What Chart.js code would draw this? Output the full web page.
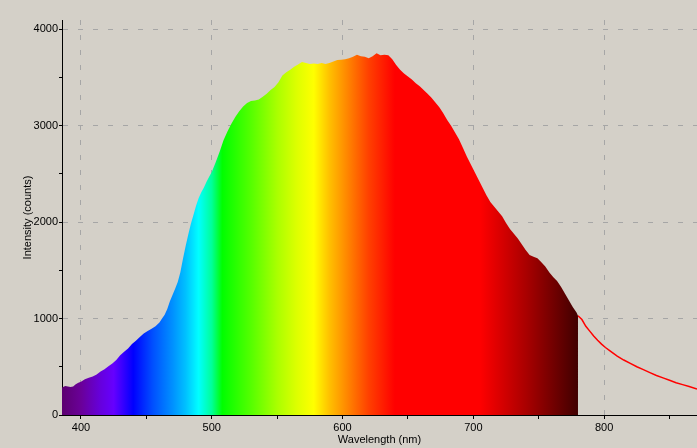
<!DOCTYPE html>
<html lang="en">
<head>
<meta charset="UTF-8">
<title>Spectrum</title>
<script src="https://cdn.jsdelivr.net/npm/chart.js"></script>
<style>
    html, body { margin: 0; padding: 0; background: #d4d0c8; }
    #wrap { width: 697px; height: 448px; }
</style>
</head>
<body>
<div id="wrap"><canvas id="spectrumChart" width="697" height="448"></canvas></div>
<script>
// measured spectrum (nm, counts) - the part drawn with the colour fill
const wavelengths = [385.5, 388, 390, 392, 394, 396, 398, 400, 403, 406, 409, 412, 415, 418, 421, 424, 427, 430,
    433, 436, 439, 442, 445, 448, 451, 454, 457, 460, 462, 464, 466, 468, 470, 472, 474, 476, 478, 480, 482, 484,
    486, 488, 490, 492, 494, 496, 498, 500, 503, 506, 509, 512, 515, 518, 521, 524, 527, 530, 533, 536, 539, 542,
    545, 548, 551, 554, 557, 560, 563, 566, 569, 572, 575, 578, 581, 584, 587, 590, 593, 596, 599, 602, 605, 608,
    611, 614, 617, 620, 623, 626, 629, 632, 635, 638, 641, 644, 647, 650, 653, 656, 659, 662, 665, 668, 671, 674,
    677, 680, 683, 686, 689, 692, 695, 698, 701, 704, 707, 710, 713, 716, 719, 722, 725, 728, 731, 734, 737, 740,
    743, 746, 749, 752, 755, 758, 761, 764, 767, 770, 773, 776, 779, 780];
const counts = [285, 300, 295, 290, 295, 320, 335, 345, 370, 385, 400, 420, 450, 475, 505, 535, 570, 620,
    655, 690, 735, 770, 810, 845, 870, 895, 920, 960, 1000, 1040, 1100, 1180, 1245, 1310, 1380, 1480, 1620, 1750, 1870, 1980,
    2075, 2170, 2250, 2310, 2360, 2420, 2470, 2520, 2620, 2730, 2850, 2940, 3020, 3090, 3150, 3200, 3235, 3255, 3262, 3272, 3300, 3330,
    3370, 3400, 3450, 3520, 3555, 3580, 3610, 3635, 3660, 3650, 3640, 3645, 3640, 3650, 3640, 3650, 3665, 3680, 3685, 3690, 3700, 3715,
    3735, 3720, 3715, 3700, 3720, 3750, 3730, 3735, 3730, 3690, 3630, 3580, 3540, 3510, 3480, 3440, 3410, 3370, 3330, 3290, 3240, 3190,
    3130, 3060, 3000, 2930, 2860, 2770, 2680, 2600, 2520, 2440, 2360, 2280, 2210, 2160, 2110, 2060, 1990, 1930, 1880, 1830, 1770, 1710,
    1660, 1640, 1625, 1585, 1540, 1480, 1430, 1390, 1330, 1260, 1190, 1120, 1060, 1030];

// the rest of the spectrum, plain red line
const tailWavelengths = [780, 783, 786, 789, 792, 795, 798, 801, 805, 810, 815, 820, 825, 830, 835, 840, 845, 850, 855, 860, 865, 871];
const tailCounts = [1030, 990, 920, 870, 820, 775, 735, 700, 660, 610, 570, 535, 500, 470, 440, 410, 385, 360, 335, 315, 295, 270];

// axis ticks (every second one gets a label)
const xTickValues = [400, 450, 500, 550, 600, 650, 700, 750, 800, 850];
const yTickValues = [0, 500, 1000, 1500, 2000, 2500, 3000, 3500, 4000];

// colour of the fill at each wavelength
const stopWavelengths = [385.5, 400, 415, 425, 440, 455, 470, 480, 490, 500, 508, 530, 550, 565, 578, 590, 605, 620, 640, 705, 740, 780];
const stopColors = ['#5c0070', '#6a0098', '#6600dd', '#6600ff', '#0000ff', '#0050ff', '#0090ff', '#00c0ff', '#00ffff',
    '#00ff99', '#00ff00', '#55ff00', '#aaff00', '#ddff00', '#ffff00', '#ffc000', '#ff8000', '#ff4000', '#ff0000',
    '#ff0000', '#aa0000', '#400000'];

const xMin = 385.5, xMax = 871, yMax = 4096;
const tickFont = { family: 'Liberation Sans, Arial, sans-serif', size: 11 };

function spectrumFill(context) {
    const chart = context.chart;
    if (!chart.chartArea) return 'rgba(0,0,0,0)';
    const x = chart.scales.x;
    const x0 = x.getPixelForValue(stopWavelengths[0]);
    const x1 = x.getPixelForValue(stopWavelengths[stopWavelengths.length - 1]);
    const g = chart.ctx.createLinearGradient(x0, 0, x1, 0);
    const span = stopWavelengths[stopWavelengths.length - 1] - stopWavelengths[0];
    stopWavelengths.forEach((nm, i) => g.addColorStop((nm - stopWavelengths[0]) / span, stopColors[i]));
    return g;
}

new Chart(document.getElementById('spectrumChart'), {
    type: 'line',
    data: {
        datasets: [{
            data: wavelengths.map((w, i) => ({ x: w, y: counts[i] })),
            backgroundColor: spectrumFill,
            borderColor: 'rgba(0,0,0,0)',
            borderWidth: 0,
            pointRadius: 0,
            fill: 'origin'
        }, {
            data: tailWavelengths.map((w, i) => ({ x: w, y: tailCounts[i] })),
            borderColor: '#ff0000',
            borderWidth: 1.5,
            pointRadius: 0,
            fill: false
        }]
    },
    options: {
        responsive: false,
        animation: false,
        layout: { padding: { top: 20, right: 0, left: 0, bottom: 0 } },
        plugins: { legend: { display: false }, tooltip: { enabled: false } },
        scales: {
            x: {
                type: 'linear',
                min: xMin,
                max: xMax,
                afterBuildTicks: s => { s.ticks = xTickValues.map(v => ({ value: v })); },
                afterFit: s => { s.height = 33; },
                ticks: {
                    autoSkip: false,
                    maxRotation: 0,
                    padding: 2,
                    color: '#000',
                    font: tickFont,
                    callback: v => (v % 100 === 0 ? String(v) : '')
                },
                grid: {
                    color: c => (c.tick && c.tick.value % 100 === 0 ? '#a6a6a6' : 'rgba(0,0,0,0)'),
                    tickColor: '#000',
                    tickLength: 4
                },
                border: { color: '#000', width: 1, dash: [5, 10] },
                title: {
                    display: true,
                    text: 'Wavelength (nm)',
                    color: '#000',
                    font: tickFont,
                    padding: { top: 0, bottom: 1 }
                }
            },
            y: {
                type: 'linear',
                min: 0,
                max: yMax,
                afterBuildTicks: s => { s.ticks = yTickValues.map(v => ({ value: v })); },
                afterFit: s => { s.width = 62; },
                ticks: {
                    autoSkip: false,
                    padding: 1,
                    color: '#000',
                    font: tickFont,
                    callback: v => (v % 1000 === 0 ? String(v) : '')
                },
                grid: {
                    color: c => (c.tick && c.tick.value % 1000 === 0 && c.tick.value > 0 ? '#a6a6a6' : 'rgba(0,0,0,0)'),
                    tickColor: '#000',
                    tickLength: 3
                },
                border: { color: '#000', width: 1, dash: [5, 10] },
                title: {
                    display: true,
                    text: 'Intensity (counts)',
                    color: '#000',
                    font: tickFont,
                    padding: { top: 21, bottom: 0 }
                }
            }
        }
    }
});
</script>
</body>
</html>
